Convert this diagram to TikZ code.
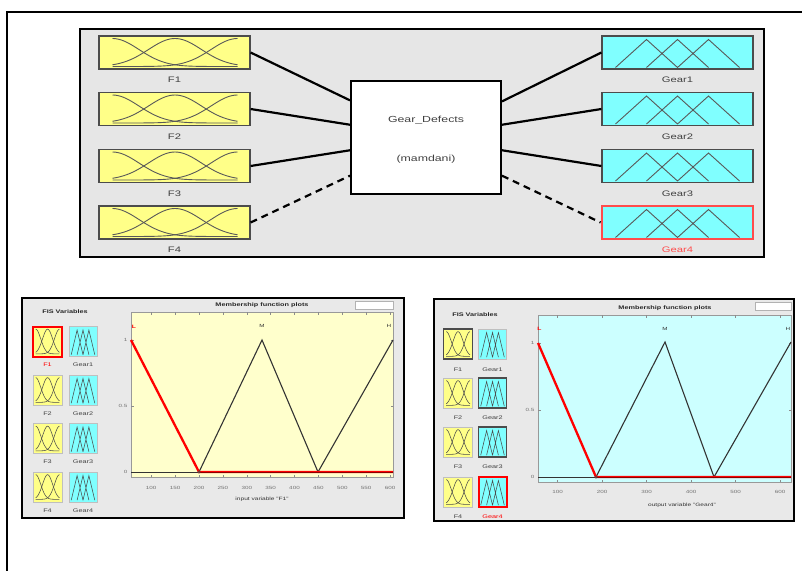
\documentclass[tikz,border=0pt]{standalone}
\usepackage{fontspec}
\setmainfont{Liberation Sans}
\usepackage{graphicx}
\usetikzlibrary{calc}
\definecolor{panelgray}{HTML}{E6E6E6}
\definecolor{bpgray}{HTML}{E9E9E9}
\definecolor{mfyellow}{HTML}{FFFF88}
\definecolor{mfcyan}{HTML}{80FFFF}
\definecolor{plotyellow}{HTML}{FFFFCC}
\definecolor{plotcyan}{HTML}{CCFFFF}
\definecolor{selred}{HTML}{FF4C4C}
\definecolor{mred}{HTML}{FF0000}
\newcommand\hstr[1]{\scalebox{1.4}[1]{#1}}
\begin{document}
\begin{tikzpicture}[x=1pt,y=-1pt,
  mfline/.style={draw=black!65,line width=0.9},
  inbox/.style={draw=black!70,line width=1.2,fill=mfyellow,minimum width=151pt,minimum height=33pt,inner sep=0pt},
  outbox/.style={draw=black!70,line width=1.2,fill=mfcyan,minimum width=151pt,minimum height=33pt,inner sep=0pt},
  lbl/.style={font=\fontsize{8}{9}\selectfont,text=black!75,inner sep=0pt},
  ctext/.style={font=\fontsize{8.8}{10}\selectfont,text=black!75,inner sep=0pt},
  conn/.style={line width=2.2,draw=black},
  dconn/.style={conn,dash pattern=on 7pt off 5pt},
  bpanel/.style={line width=2.5,draw=black,fill=bpgray},
  ficon/.style={draw=black!25,line width=0.8,fill=mfyellow,minimum width=29pt,minimum height=30pt,inner sep=0pt},
  gicon/.style={draw=black!25,line width=0.8,fill=mfcyan,minimum width=28pt,minimum height=30pt,inner sep=0pt},
  iconmf/.style={xscale=0.19,yscale=0.88,mfline/.style={draw=black!70,line width=0.55}},
  icl/.style={font=\fontsize{5.2}{6}\selectfont,text=black!75,inner sep=0pt},
  bold5/.style={font=\bfseries\fontsize{5.2}{6}\selectfont,text=black!85,inner sep=0pt},
  tlbl/.style={font=\fontsize{4.5}{5}\selectfont,text=black!55,inner sep=0pt},
  axl/.style={font=\fontsize{4.7}{5}\selectfont,text=black!80,inner sep=0pt},
  tick/.style={draw=black!45,line width=0.5},
  mfblack/.style={draw=black!80,line width=1.1},
  lred/.style={draw=mred,line width=2.3},
  gauss/.pic={
    \draw[mfline] plot[domain=-62:63,samples=45,smooth] (\x,{14-28*exp(-((\x+62)^2)/1404)});
    \draw[mfline] plot[domain=-62:63,samples=45,smooth] (\x,{14-28*exp(-((\x-0.5)^2)/1404)});
    \draw[mfline] plot[domain=-62:63,samples=45,smooth] (\x,{14-28*exp(-((\x-63)^2)/1404)});
  },
  tri/.pic={
    \draw[mfline] (-62,15) -- (-31,-13) -- (0,15) (-31,15) -- (0,-13) -- (31,15) (0,15) -- (31,-13) -- (62,15);
  }
]
\useasboundingbox (0,0) rectangle (802,570);
\fill[white] (0,0) rectangle (802,570);
% outer frame (open at right and bottom)
\draw[line width=2] (7,571) -- (7,11.5) -- (803,11.5);

% ===== top panel =====
\node[draw=black,line width=2.5,fill=panelgray,minimum width=684pt,minimum height=228pt,inner sep=0pt] (top) at (422,143) {};

\foreach \n/\y in {1/52.5,2/109,3/166,4/222.5}{
  \node[inbox] (F\n) at (174.5,\y) {};
  \pic at (F\n) {gauss};
  \node[lbl] (F\n l) at (174.5,\y+27.5) {\hstr{F\n}};
}
\foreach \n/\y in {1/52.5,2/109,3/166}{
  \node[outbox] (G\n) at (677.5,\y) {};
  \pic at (G\n) {tri};
  \node[lbl] (G\n l) at (677.5,\y+27.5) {\hstr{Gear\n}};
}
\node[outbox,draw=selred,line width=2.8] (G4) at (677.5,222.5) {};
\pic at (G4) {tri};
\node[lbl,text=selred] (G4l) at (677.5,250) {\hstr{Gear4}};

\node[draw=black,line width=2,fill=white,minimum width=150pt,minimum height=113pt,inner sep=0pt] (cd) at (426,137.5) {};
\node[ctext] (cdt1) at (426,120) {\hstr{Gear\_Defects}};
\node[ctext] (cdt2) at (426,159) {\hstr{(mamdani)}};

\draw[conn] (F1.east) -- ($(cd.north west)!0.177!(cd.south west)$);
\draw[conn] (F2.east) -- ($(cd.north west)!0.389!(cd.south west)$);
\draw[conn] (F3.east) -- ($(cd.north west)!0.611!(cd.south west)$);
\draw[dconn] (F4.east) -- ($(cd.north west)!0.832!(cd.south west)$);
\draw[conn] ($(cd.north east)!0.186!(cd.south east)$) -- (G1.west);
\draw[conn] ($(cd.north east)!0.389!(cd.south east)$) -- (G2.west);
\draw[conn] ($(cd.north east)!0.611!(cd.south east)$) -- (G3.west);
\draw[dconn] ($(cd.north east)!0.832!(cd.south east)$) -- (G4.west);

% ===== bottom left panel =====
\draw[bpanel] (22,298) rectangle (404,518);
\node[bold5] (fisL) at (65,312) {\hstr{FIS Variables}};
\node[ficon,draw=red,line width=2] (LF1) at (47.5,341.5) {};
\pic[iconmf] at (LF1) {gauss};
\node[icl,text=red] (LF1l) at (47.5,365) {\hstr{F1}};
\foreach \n/\y in {2/390,3/438.5,4/487}{
  \node[ficon] (LF\n) at (47.5,\y) {};
  \pic[iconmf] at (LF\n) {gauss};
  \node[icl] (LF\n l) at (47.5,\y+23.5) {\hstr{F\n}};
}
\foreach \n/\y in {1/341.5,2/390,3/438.5,4/487}{
  \node[gicon] (LG\n) at (83,\y) {};
  \pic[iconmf] at (LG\n) {tri};
  \node[icl] (LG\n l) at (83,\y+23.5) {\hstr{Gear\n}};
}
% plot
\draw[draw=black!40,line width=0.6,fill=plotyellow] (131,312) rectangle (393,477);
\draw[draw=black!30,fill=white] (355,301) rectangle (393,309);
\node[bold5] (titL) at (262,305) {\hstr{Membership function plots}};
\foreach \v/\px in {100/151.2,150/175.1,200/199,250/222.9,300/246.8,350/270.6,400/294.5,450/318.4,500/342.3,550/366.1,600/390}{
  \draw[tick] (\px,477) -- (\px,474.5);
  \draw[tick] (\px,312) -- (\px,314.5);
  \node[tlbl] at (\px,488) {\hstr{\v}};
}
\foreach \v/\py in {0/472,0.5/406,1/340}{
  \draw[tick] (131,\py) -- (133.5,\py);
  \draw[tick] (393,\py) -- (390.5,\py);
  \node[tlbl,anchor=east] at (127.5,\py) {\hstr{\v}};
}
\draw[black!80,line width=0.8] (131,472) -- (393,472);
\draw[mfblack] (199,472) -- (262,340) -- (318,472) -- (393,340);
\draw[lred] (131,340) -- (199,472) -- (393,472);
\draw[red!55!black,line width=0.6] (199,472) -- (393,472);
\draw[black!70,line width=0.5] (199,472) circle (1.3);
\node[tlbl,text=red,font=\bfseries\fontsize{4.8}{5}\selectfont] (LL) at (134,327) {\hstr{L}};
\node[tlbl,text=black!80] (LM) at (262,326) {\hstr{M}};
\node[tlbl,text=black!80] (LH) at (389,326) {\hstr{H}};
\node[axl] (xlL) at (262,499) {\hstr{input variable "F1"}};

% ===== bottom right panel =====
\draw[bpanel] (434,299) rectangle (794,521);
\node[bold5] (fisR) at (475,315) {\hstr{FIS Variables}};
\node[ficon,draw=black!70,line width=1.2] (RF1) at (458,344) {};
\pic[iconmf] at (RF1) {gauss};
\node[icl] (RF1l) at (458,370) {\hstr{F1}};
\foreach \n/\y in {2/393,3/442,4/492}{
  \node[ficon] (RF\n) at (458,\y) {};
  \pic[iconmf] at (RF\n) {gauss};
  \node[icl] (RF\n l) at (458,\y+25) {\hstr{F\n}};
}
\node[gicon] (RG1) at (492.5,344) {};
\pic[iconmf] at (RG1) {tri};
\node[icl] (RG1l) at (492.5,370) {\hstr{Gear1}};
\foreach \n/\y in {2/393,3/442}{
  \node[gicon,draw=black!70,line width=1.2] (RG\n) at (492.5,\y) {};
  \pic[iconmf] at (RG\n) {tri};
  \node[icl] (RG\n l) at (492.5,\y+25) {\hstr{Gear\n}};
}
\node[gicon,draw=red,line width=2] (RG4) at (492.5,492) {};
\pic[iconmf] at (RG4) {tri};
\node[icl,text=red] (RG4l) at (492.5,517) {\hstr{Gear4}};
% plot
\draw[draw=black!40,line width=0.6,fill=plotcyan] (538,315) rectangle (791,482);
\draw[draw=black!30,fill=white] (755,302) rectangle (791,310);
\node[bold5] (titR) at (665,308.5) {\hstr{Membership function plots}};
\foreach \v/\px in {100/557.5,200/602,300/646.5,400/691,500/735.5,600/780}{
  \draw[tick] (\px,482) -- (\px,479.5);
  \draw[tick] (\px,315) -- (\px,317.5);
  \node[tlbl] at (\px,492) {\hstr{\v}};
}
\foreach \v/\py in {0/477,0.5/410,1/343}{
  \draw[tick] (538,\py) -- (540.5,\py);
  \draw[tick] (791,\py) -- (788.5,\py);
  \node[tlbl,anchor=east] at (534.5,\py) {\hstr{\v}};
}
\draw[black!80,line width=0.8] (538,477) -- (791,477);
\draw[mfblack] (596,477) -- (665,342) -- (714,477) -- (791,342);
\draw[lred] (538,343) -- (596,477) -- (791,477);
\draw[red!55!black,line width=0.6] (596,477) -- (791,477);
\draw[black!70,line width=0.5] (596,477) circle (1.3);
\node[tlbl,text=red,font=\bfseries\fontsize{4.8}{5}\selectfont] (RL) at (539.5,329) {\hstr{L}};
\node[tlbl,text=black!80] (RM) at (665,329) {\hstr{M}};
\node[tlbl,text=black!80] (RH) at (788,329) {\hstr{H}};
\node[axl] (xlR) at (682,505) {\hstr{output variable "Gear4"}};
\end{tikzpicture}
\end{document}
